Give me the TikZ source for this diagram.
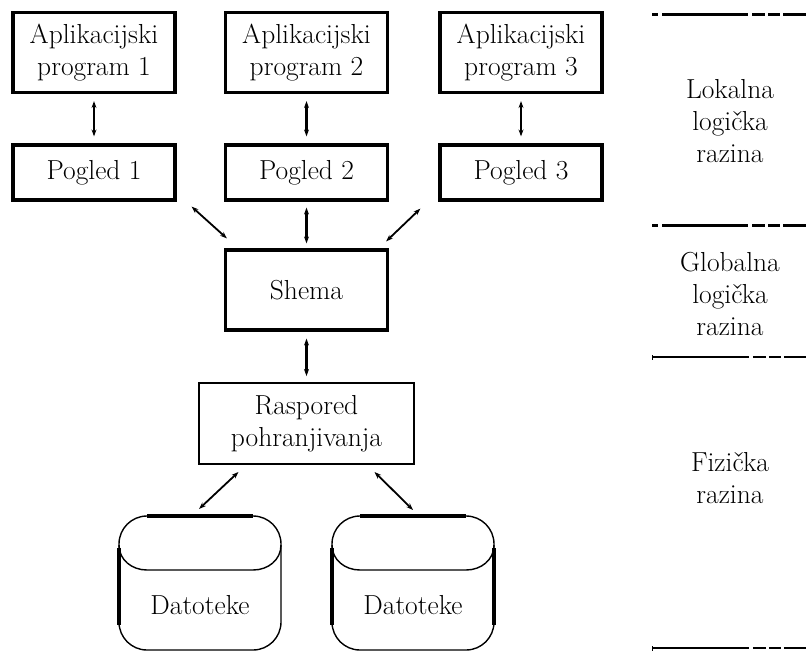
\documentclass[tikz,border=0pt]{standalone}
\usetikzlibrary{arrows.meta,calc}
\begin{document}
\begin{tikzpicture}[x=1pt,y=-1pt,
  txt/.style={font=\fontsize{27.5}{32}\selectfont, align=center},
  box/.style={txt, draw, line width=3.2pt, inner sep=0pt},
  bigbox/.style={box, minimum width=162pt, minimum height=80pt},
  viewbox/.style={box, minimum width=162pt, minimum height=55pt},
  link/.style={{Stealth[length=7pt,width=5pt]}-{Stealth[length=7pt,width=5pt]}, line width=2.4pt},
  thinlink/.style={link, line width=1.4pt},
  dbline/.style={line width=1.4pt},
  levelhi/.style={line width=3pt, dash pattern=on 6pt off 4pt on 86pt off 4pt on 13pt off 3pt on 12pt off 3pt on 40pt},
  levello/.style={line width=1.5pt, {Bar[width=5pt,line width=1pt]}-, dash pattern=on 96pt off 4pt on 13pt off 3pt on 12pt off 3pt on 40pt},
  leveltxt/.style={txt}
]
\useasboundingbox (0,0) rectangle (806,651);

% application programs
\node[bigbox] (a1) at (94,52.5) {Aplikacijski\\program 1};
\node[bigbox] (a2) at (306.5,52.5) {Aplikacijski\\program 2};
\node[bigbox] (a3) at (521,52.5) {Aplikacijski\\program 3};

% external views
\node[viewbox] (p1) at (94,172.5) {Pogled 1};
\node[viewbox] (p2) at (306.5,172.5) {Pogled 2};
\node[viewbox] (p3) at (521,172.5) {Pogled 3};

% conceptual schema and storage layout
\node[bigbox] (sh) at (306.5,290) {Shema};
\node[box, line width=1.9pt, minimum width=215pt, minimum height=81pt] (rp) at (306.5,423.5) {Raspored\\pohranjivanja};

% files (drums)
\foreach \x/\n in {119/d1,332/d2}{
  \draw[dbline, rounded corners=28pt] (\x,580) -- (\x,516) -- (\x+162,516) -- (\x+162,650) -- (\x,650) -- cycle;
  \draw[dbline] (\x,545) .. controls (\x,560) and (\x+13,570) .. (\x+28,570)
     -- (\x+134,570) .. controls (\x+149,570) and (\x+162,560) .. (\x+162,545);
  \draw[line width=3.2pt] (\x+28,516) -- (\x+134,516);
  \draw[line width=3.2pt] (\x,548) -- (\x,625);
  \node[txt] (\n) at (\x+81,605) {Datoteke};
}
\draw[line width=3.2pt] (494,548) -- (494,625);
\coordinate (d1top) at (200,516);
\coordinate (d2top) at (413,516);

% connectors
\draw[thinlink] ($(a1.south)+(0,7)$) -- ($(p1.north)+(0,-7)$);
\draw[link] ($(a2.south)+(0,7)$) -- ($(p2.north)+(0,-7)$);
\draw[link] ($(a3.south)+(0,7)$) -- ($(p3.north)+(0,-7)$);
\draw[link, line width=1.8pt] ($(p1.south east)+(15,5)$) -- ($(sh.north west)+(3,-10)$);
\draw[link] ($(p2.south)+(0,6)$) -- ($(sh.north)+(0,-5)$);
\draw[link, line width=1.8pt] ($(p3.south west)+(-18,7)$) -- ($(sh.north east)+(-3,-7)$);
\draw[link] ($(sh.south)+(0,7)$) -- ($(rp.north)+(0,-6)$);
\draw[link, line width=1.8pt] ($(rp.south)+(-68,7)$) -- ($(d1top)+(-1,-7)$);
\draw[link, line width=1.8pt] ($(rp.south)+(68,7)$) -- ($(d2top)+(0,-6)$);

% level separators
\coordinate (s1) at (652,14);
\coordinate (s2) at (652,225);
\coordinate (s3) at (652,357);
\coordinate (s4) at (652,648);
\draw[levelhi] (s1) -- (806,14);
\draw[levelhi] (s2) -- (806,225);
\draw[levello] (s3) -- (806,357);
\draw[levello] (s4) -- (806,648);

% level names
\node[leveltxt] (l1) at (730,121) {Lokalna\\logička\\razina};
\node[leveltxt] (l2) at (730,294) {Globalna\\logička\\razina};
\node[leveltxt] (l3) at (730,478) {Fizička\\razina};
\end{tikzpicture}
\end{document}
